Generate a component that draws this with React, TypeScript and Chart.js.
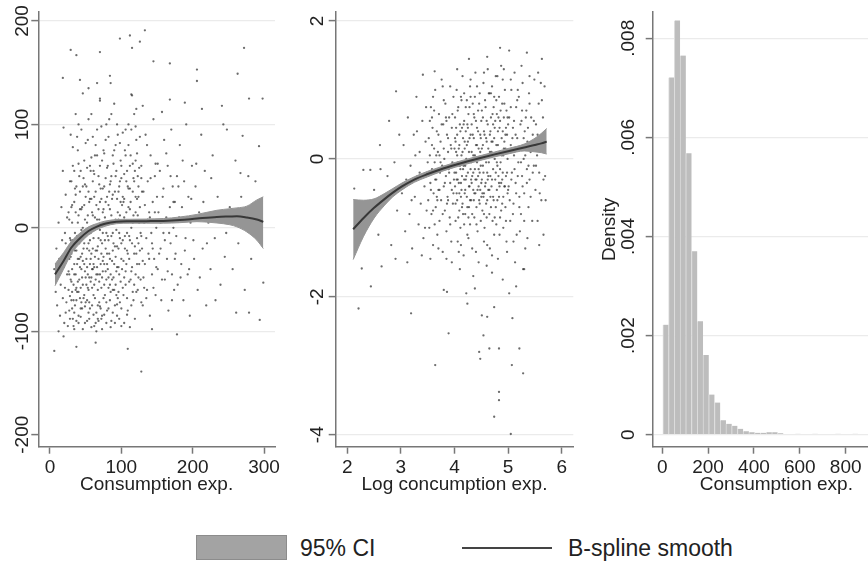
import React, { useEffect, useRef } from 'react';
import { Chart, registerables } from 'chart.js';

Chart.register(...registerables);

const FONT = "'Liberation Sans', Arial, Helvetica, sans-serif";
const AXIS_COLOR = '#777777';
const GRID_COLOR = '#ebebeb';
const TEXT_COLOR = '#222222';
const BAND_COLOR = '#959595';
const LINE_COLOR = '#383838';
const DOT_COLOR = 'rgba(45,45,45,0.7)';
const BAR_COLOR = '#bdbdbd';
const BAR_EDGE = '#dcdcdc';

// ---------- Panel 1: residual vs consumption exp. ----------
const P1_X_TICKS = [0, 100, 200, 300];
const P1_X_LABELS = ['0', '100', '200', '300'];
const P1_Y_TICKS = [-200, -100, 0, 100, 200];
const P1_Y_LABELS = ['-200', '-100', '0', '100', '200'];
const P1_X_TITLE = 'Consumption exp.';

const P1_SMOOTH_X = [7, 19, 30, 42, 54, 65, 77, 93, 112, 135, 159, 182, 206, 234, 252, 262, 276, 290, 299];
const P1_FIT = [-45, -32, -19, -10, -3, 1, 4, 6, 6.4, 6.5, 6.7, 7.5, 9, 10.6, 11, 11.2, 10, 8, 5.8];
const P1_LO = [-56, -40, -25, -15, -7, -2, 1.5, 4, 4.5, 4.5, 4.5, 5, 6, 4.7, 3, 1, -4, -12, -20];
const P1_HI = [-35, -24, -13, -5, 1, 4, 6.5, 8, 8.3, 8.5, 9, 10.5, 13, 17, 18.5, 19.3, 21, 27, 30];

const P1_SCATTER: [number, number][] = [
  [6,-40],[8,-62],[9,-20],[10,-75],[11,-48],[12,5],[13,-30],[14,-85],[15,-55],[16,20],[17,-12],[18,-68],[19,-38],[20,-92],[21,-5],[21,-58],[22,32],[23,-25],[23,-72],[24,-45],[24,10],[12,-100],[18,55],[22,-15],[15,-35],
  [26,-60],[26,15],[27,-30],[27,-80],[28,45],[28,-10],[29,-50],[29,90],[30,-25],[30,-70],[31,5],[31,-40],[32,-88],[32,60],[33,-18],[33,-55],[34,25],[34,-35],[35,-75],[35,-5],[36,110],[36,-45],[37,-22],[37,40],[38,-62],[38,-8],[39,75],[39,-30],[40,-85],[40,12],[41,-50],[41,-15],[42,35],[42,-68],[43,-28],[43,55],[44,-40],[44,-2],[45,-78],[45,20],[46,-55],[46,130],[47,-20],[47,48],[48,-65],[48,-35],[49,8],[49,-92],[50,-48],[50,30],[27,-45],[30,20],[33,-95],[36,-60],[39,-52],[42,-38],[45,-25],[48,65],[31,-62],[35,38],[44,-72],[47,-8],[40,100],[43,-58],[37,-90],[46,0],[29,-12],[34,-82],[41,50],[49,-42],
  [51,-30],[51,40],[52,-70],[52,5],[53,-45],[53,85],[54,-15],[54,-60],[55,25],[55,-88],[56,-35],[56,60],[57,-5],[57,-52],[58,110],[58,-25],[59,-75],[59,15],[60,-40],[60,45],[61,-10],[61,-65],[62,30],[62,-95],[63,-28],[63,70],[64,-50],[64,0],[65,-82],[65,22],[66,-38],[66,95],[67,-18],[67,-60],[68,50],[68,-30],[69,-72],[69,8],[70,-45],[70,125],[71,-12],[71,38],[72,-58],[72,-25],[73,65],[73,-85],[74,-5],[74,-42],[75,18],[75,-68],[52,-20],[54,35],[56,-78],[58,-48],[60,12],[62,-55],[64,80],[66,-22],[68,-90],[70,-2],[72,28],[74,-32],[53,-58],[57,55],[61,-35],[65,-100],[69,42],[73,-15],[55,-22],[59,-40],[63,10],[67,-45],[71,-78],[75,75],[66,140],
  [76,-35],[76,40],[77,-65],[77,10],[78,-20],[78,85],[79,-50],[79,-5],[80,30],[80,-80],[81,-40],[81,60],[82,-12],[82,-58],[83,105],[83,-25],[84,-70],[84,18],[85,-45],[85,45],[86,-8],[86,-90],[87,28],[87,-32],[88,-60],[88,70],[89,-15],[89,-48],[90,5],[90,120],[91,-75],[91,35],[92,-28],[92,-55],[93,55],[93,-2],[94,-38],[94,-85],[95,15],[95,90],[96,-62],[96,-20],[97,40],[97,-45],[98,-10],[98,-72],[99,65],[99,25],[100,-30],[100,-95],[78,-42],[82,22],[86,50],[90,-35],[94,-18],[98,12],[80,-25],[84,-55],[88,-5],[92,80],[96,8],[100,48],[85,140],[93,-65],[79,100],
  [101,-40],[102,30],[103,-65],[104,10],[105,75],[105,-20],[106,-55],[107,45],[108,-5],[109,-80],[110,20],[110,100],[111,-30],[112,60],[113,-50],[114,0],[115,-15],[115,128],[116,35],[117,-70],[118,-25],[119,55],[120,-45],[120,15],[121,85],[122,-10],[123,-60],[124,40],[125,-35],[125,5],[103,25],[107,-35],[111,-8],[113,70],[117,12],[119,-88],[121,-25],[123,50],[102,-12],[106,95],[109,40],[114,-42],[118,110],[122,28],[104,-48],[108,-22],[112,18],[116,-62],[120,65],[124,-15],
  [126,20],[127,-50],[128,60],[129,-20],[130,-75],[131,35],[132,5],[133,-35],[134,90],[135,-10],[136,-60],[137,45],[138,-25],[139,15],[140,-85],[141,70],[142,-5],[143,-45],[144,25],[145,105],[146,-30],[147,50],[148,-65],[149,0],[150,30],[128,-8],[132,-58],[136,80],[140,10],[144,-20],[148,62],[130,118],
  [151,-40],[152,15],[154,55],[155,-20],[156,-70],[158,30],[159,-5],[160,85],[161,-50],[163,10],[164,-30],[165,60],[166,-80],[168,20],[169,-15],[170,95],[171,-45],[172,40],[173,0],[174,-60],[175,25],[157,112],
  [176,-25],[178,50],[179,-55],[181,10],[182,80],[184,-35],[185,20],[187,-70],[188,45],[190,-10],[191,100],[193,-45],[194,30],[196,-85],[197,5],[199,60],
  [202,-30],[204,40],[207,-60],[209,15],[212,90],[214,-20],[217,55],[219,-75],[222,5],[225,-40],[228,70],[231,-10],[235,30],[239,-55],[243,100],[247,-5],
  [252,20],[256,-40],[260,65],[264,-15],[268,30],[273,-60],[277,10],[282,-30],[288,45],[296,-10],
  [6,-119],[19,-105],[37,-115],[64,-111],[109,-117],[128,-139],[178,-103],[143,-98],[272,174],[279,125],[298,125],[294,-89],[299,-53],[279,-82],[261,-82],[267,53],[278,50],[133,191],[112,186],[126,180],[115,174],[98,183],[70,170],[29,172],[37,167],[145,161],[168,159],[206,153],[206,142],[263,149],[18,145],[42,143],[54,135],[84,147],[70,123],[121,115],[114,129],[168,124],[189,121],[213,115],[241,118],[248,95],[270,89],[293,79],[19,97],
  [25,-20],[26,-42],[27,8],[28,-66],[29,-28],[30,-52],[31,22],[32,-12],[33,-70],[34,-45],[35,-22],[36,15],[37,-58],[38,-35],[39,5],[40,-62],[41,-30],[42,-8],[43,-78],[44,18],[45,-48],[46,-32],[47,-68],[48,-15],[49,42],[50,-72],[51,-55],[52,-38],[53,12],[54,-82],[55,-48],[56,-12],[57,-30],[58,28],[59,-58],[60,-20],[61,55],[62,-38],[63,-68],[64,-22],[65,-45],[66,8],[67,-75],[68,-10],[69,-52],[70,25],[71,-35],[72,-88],[73,-48],[74,15],[75,-28],[76,-55],[77,-12],[78,48],[79,-72],[80,-35],[81,-8],[82,-48],[83,35],[84,-30],[85,-62],[86,12],[87,-50],[88,-22],[89,62],[90,-60],[91,-18],[92,8],[93,-42],[94,28],[95,-68],[96,-38],[97,-5],[98,45],[99,-52],[100,-15],[101,22],[102,-58],[103,-32],[104,52],[105,-8],[106,-42],[107,15],[108,-68],[109,-25],[110,38],[111,-52],[112,-12],[113,25],[114,-75],[115,-38],[116,5],[117,48],[118,-55],[119,-18],[120,30],[121,-62],[122,-35],[123,12],[124,-48],[125,58],[126,-22],[127,-5],[128,-72],[129,35],[130,-32],
  [30,45],[32,78],[34,55],[36,32],[38,88],[40,62],[42,18],[44,95],[46,40],[48,22],[50,82],[52,58],[54,105],[56,28],[58,68],[60,88],[62,52],[64,35],[66,70],[68,18],[70,60],[72,98],[74,38],[76,72],[78,25],[80,58],[82,88],[84,42],[86,110],[88,32],[90,75],[92,50],[94,100],[96,35],[98,82],[100,60],[102,92],[104,28],[106,70],[108,55],[110,80],[112,38],[114,95],[116,62],[118,45],[120,98],[122,72],[124,30],[126,88],[128,48],
  [22,-82],[25,-95],[28,-88],[31,-78],[34,-98],[37,-70],[40,-92],[43,-86],[46,-98],[49,-76],[52,-90],[55,-72],[58,-96],[61,-84],[64,-92],[67,-88],[70,-76],[73,-98],[76,-84],[79,-92],[82,-78],[85,-96],[88,-82],[91,-92],[94,-74],[97,-88],[100,-78],[104,-92],[108,-84],[112,-96],
  [131,-48],[133,22],[135,-68],[137,8],[139,-30],[141,48],[143,-15],[145,-58],[147,15],[149,-38],[151,62],[153,-25],[155,5],[157,-50],[159,38],[161,-12],[163,72],[165,-42],[167,-5],[169,50],[171,-70],[173,25],[175,-30],[177,-8],[180,40],[183,-48],[186,65],[189,-22],[192,10],[195,-40],[198,28],[201,-12],[205,62],[210,-48],[215,25],[220,-15],[226,48],[232,-70],[238,12],[245,-28],
];

// ---------- Panel 2: residual vs log consumption exp. ----------
const P2_X_TICKS = [2, 3, 4, 5, 6];
const P2_X_LABELS = ['2', '3', '4', '5', '6'];
const P2_Y_TICKS = [-4, -2, 0, 2];
const P2_Y_LABELS = ['-4', '-2', '0', '2'];
const P2_X_TITLE = 'Log concumption exp.';

const P2_SMOOTH_X = [2.11, 2.3, 2.5, 2.7, 2.85, 3.02, 3.25, 3.5, 3.75, 4.02, 4.25, 4.52, 4.75, 5.02, 5.3, 5.52, 5.62, 5.72];
const P2_FIT = [-1.02, -0.86, -0.71, -0.58, -0.49, -0.4, -0.3, -0.22, -0.15, -0.085, -0.035, 0.02, 0.065, 0.115, 0.165, 0.205, 0.225, 0.25];
const P2_LO = [-1.46, -1.13, -0.86, -0.67, -0.55, -0.45, -0.34, -0.26, -0.185, -0.12, -0.07, -0.015, 0.03, 0.075, 0.115, 0.1, 0.09, 0.07];
const P2_HI = [-0.59, -0.6, -0.58, -0.5, -0.43, -0.35, -0.26, -0.18, -0.115, -0.05, 0.0, 0.055, 0.1, 0.155, 0.215, 0.31, 0.37, 0.44];

const P2_SCATTER: [number, number][] = [
  [2.35,-0.9],[2.5,-0.45],[2.58,-1.1],[2.7,-0.6],[2.75,-0.25],[2.82,-1.25],[2.88,-0.05],[2.93,-0.75],[2.97,0.35],[2.2,-1.2],[2.62,-0.15],[2.78,0.55],[2.9,-1.45],
  [3.02,-0.5],[3.05,0.2],[3.08,-1.05],[3.1,-0.3],[3.13,0.6],[3.16,-0.8],[3.18,-0.1],[3.21,-1.3],[3.24,0.35],[3.26,-0.55],[3.29,0.9],[3.31,-0.25],[3.33,-0.95],[3.35,0.1],[3.37,-0.65],[3.4,0.55],[3.42,-1.15],[3.44,-0.4],[3.46,0.25],[3.48,-0.75],[3.5,-0.05],[3.12,-1.5],[3.27,0.05],[3.39,-1.4],[3.47,0.75],
  [3.51,-0.6],[3.52,0.3],[3.53,-1.0],[3.54,0.05],[3.55,-0.35],[3.56,0.75],[3.57,-0.8],[3.58,-0.15],[3.59,0.45],[3.6,-1.25],[3.61,-0.5],[3.62,0.15],[3.63,-0.05],[3.64,1.0],[3.65,-0.7],[3.66,-0.3],[3.67,0.4],[3.68,-1.1],[3.69,0.1],[3.7,-0.45],[3.71,0.65],[3.72,-0.9],[3.73,-0.2],[3.74,0.25],[3.75,-0.6],[3.76,1.15],[3.77,-0.1],[3.78,-1.35],[3.79,0.5],[3.8,-0.4],[3.81,0.0],[3.82,-0.75],[3.83,0.8],[3.84,-0.25],[3.85,-1.05],[3.86,0.35],[3.87,-0.55],[3.88,0.1],[3.89,-0.15],[3.9,0.6],[3.91,-0.85],[3.92,-0.35],[3.93,0.2],[3.94,-1.2],[3.95,0.45],[3.96,-0.05],[3.97,-0.65],[3.98,0.9],[3.99,-0.3],[4.0,0.15],[3.55,-1.45],[3.63,-0.95],[3.72,0.05],[3.8,0.85],[3.88,-0.6],[3.95,-0.45],[3.67,-0.55],[3.85,0.55],[3.92,1.05],[3.58,0.6],
  [4.01,-0.4],[4.01,0.6],[4.02,-0.9],[4.03,0.1],[4.03,-0.2],[4.04,1.0],[4.05,-0.6],[4.05,0.35],[4.06,-1.2],[4.07,-0.05],[4.07,0.75],[4.08,-0.35],[4.09,0.2],[4.09,-0.75],[4.1,0.5],[4.11,-0.15],[4.11,-1.0],[4.12,0.9],[4.13,-0.45],[4.13,0.05],[4.14,-0.25],[4.15,1.2],[4.15,-0.65],[4.16,0.3],[4.17,-0.1],[4.17,-1.4],[4.18,0.55],[4.19,-0.5],[4.19,0.15],[4.2,-0.8],[4.21,0.4],[4.21,-0.3],[4.22,0.0],[4.23,0.85],[4.23,-0.55],[4.24,-1.1],[4.25,0.25],[4.25,-0.2],[4.26,0.65],[4.27,-0.7],[4.27,0.1],[4.28,-0.4],[4.29,1.05],[4.29,-0.95],[4.3,0.35],[4.31,-0.05],[4.31,-0.6],[4.32,0.5],[4.33,-0.25],[4.33,-1.3],[4.34,0.8],[4.35,0.05],[4.35,-0.45],[4.36,0.3],[4.37,-0.85],[4.37,0.6],[4.38,-0.15],[4.39,-0.5],[4.39,1.25],[4.4,0.2],[4.41,-0.7],[4.41,-0.3],[4.42,0.45],[4.43,-1.05],[4.43,0.0],[4.44,0.7],[4.45,-0.4],[4.45,0.15],[4.46,-0.6],[4.47,0.95],[4.47,-0.2],[4.48,0.35],[4.49,-0.9],[4.49,-0.1],[4.5,0.55],[4.02,0.25],[4.08,-1.35],[4.14,0.45],[4.2,-0.1],[4.26,-0.85],[4.32,-0.35],[4.38,0.9],[4.44,-0.25],[4.5,-0.55],[4.06,-0.3],[4.12,-0.55],[4.18,-0.3],[4.24,0.5],[4.3,-0.15],[4.36,-0.6],[4.42,-0.05],[4.48,-0.45],[4.04,-0.5],[4.16,-0.8],[4.28,0.75],
  [4.51,-0.3],[4.51,0.7],[4.52,-0.75],[4.53,0.2],[4.53,-0.1],[4.54,1.1],[4.55,-0.5],[4.55,0.4],[4.56,-1.0],[4.57,0.05],[4.57,0.85],[4.58,-0.35],[4.59,0.3],[4.59,-0.65],[4.6,0.55],[4.61,-0.2],[4.61,-1.25],[4.62,1.3],[4.63,-0.45],[4.63,0.15],[4.64,-0.05],[4.65,0.95],[4.65,-0.8],[4.66,0.35],[4.67,-0.25],[4.67,-0.55],[4.68,0.6],[4.69,-0.4],[4.69,0.1],[4.7,1.05],[4.71,-0.9],[4.71,0.25],[4.72,-0.15],[4.73,0.75],[4.73,-0.6],[4.74,-1.1],[4.75,0.45],[4.75,0.0],[4.76,-0.3],[4.77,1.2],[4.77,-0.7],[4.78,0.2],[4.79,-0.45],[4.79,0.65],[4.8,-0.1],[4.81,-1.45],[4.81,0.4],[4.82,-0.25],[4.83,0.9],[4.83,-0.55],[4.84,0.1],[4.85,-0.85],[4.85,0.55],[4.86,-0.05],[4.87,1.35],[4.87,-0.35],[4.88,0.3],[4.89,-0.65],[4.89,0.8],[4.9,-0.2],[4.91,0.05],[4.91,-1.0],[4.92,0.6],[4.93,-0.4],[4.93,0.25],[4.94,1.0],[4.95,-0.7],[4.95,0.15],[4.96,-0.25],[4.97,0.7],[4.97,-1.2],[4.98,0.35],[4.99,-0.5],[4.99,0.0],[5.0,0.5],[4.54,-0.55],[4.6,-0.85],[4.66,-1.3],[4.72,0.5],[4.78,-0.95],[4.84,-0.4],[4.9,1.15],[4.96,0.45],[4.62,-0.3],[4.74,0.9],
  [5.01,-0.4],[5.02,0.6],[5.04,-0.9],[5.05,0.2],[5.06,1.0],[5.07,-0.2],[5.09,0.45],[5.1,-0.65],[5.11,0.05],[5.12,1.25],[5.14,-0.35],[5.15,0.75],[5.16,-1.1],[5.17,0.3],[5.19,-0.05],[5.2,0.9],[5.21,-0.55],[5.22,0.15],[5.24,-0.8],[5.25,0.55],[5.26,-0.25],[5.27,1.1],[5.29,0.0],[5.3,-0.5],[5.31,0.4],[5.32,-1.3],[5.34,0.7],[5.35,-0.15],[5.36,0.25],[5.38,-0.7],[5.39,0.95],[5.4,-0.3],[5.42,0.1],[5.43,0.6],[5.45,-0.9],[5.46,0.35],[5.48,-0.1],[5.49,1.15],[5.13,-1.5],[5.28,-1.6],
  [5.51,-0.45],[5.52,0.5],[5.54,0.05],[5.55,-0.9],[5.57,0.8],[5.58,-0.2],[5.6,0.3],[5.61,1.1],[5.62,-0.6],[5.64,0.15],[5.65,0.6],[5.66,-0.3],[5.68,1.05],[5.69,-0.25],[5.58,-1.25],
  [2.21,-2.17],[2.44,-1.85],[2.27,-1.59],[2.64,-1.56],[2.13,-0.43],[2.43,-0.16],[2.3,-0.16],[2.61,0.2],[2.91,0.98],[3.19,-2.24],[3.64,-2.99],[3.89,-2.53],[4.22,-1.95],[4.24,-2.1],[4.46,-2.8],[4.48,-2.9],[4.54,-2.56],[4.65,-2.75],[4.74,-2.15],[4.83,-2.75],[4.83,-3.38],[4.83,-3.5],[4.74,-3.74],[5.05,-3.99],[5.07,-2.99],[5.08,-2.31],[5.21,-2.75],[5.28,-3.11],[5.02,-1.95],[4.61,-2.29],[4.51,-2.27],[3.8,-1.9],[3.86,-1.93],[4.38,-1.88],[4.85,1.61],[5.02,1.57],[5.35,1.54],[5.63,1.45],[4.27,1.45],[4.61,1.48],[3.63,1.27],[3.41,1.22],
  [4.1,-1.6],[4.35,-1.7],[4.6,-1.55],[4.9,-1.75],[5.15,-1.85],[4.7,-1.65],[3.95,-1.5],[5.3,-1.6],[4.45,-1.5],
  [3.52,-0.2],[3.54,0.55],[3.56,-0.45],[3.58,0.2],[3.6,-0.75],[3.62,0.7],[3.64,-0.3],[3.66,0.05],[3.68,-0.6],[3.7,0.35],[3.72,-0.45],[3.74,-0.05],[3.76,0.5],[3.78,-0.8],[3.8,0.15],[3.82,-0.35],[3.84,0.6],[3.86,-0.65],[3.88,0.3],[3.9,-0.2],[3.92,-0.95],[3.94,0.15],[3.96,0.65],[3.98,-0.5],[4.0,-0.2],
  [4.01,0.3],[4.02,-0.65],[4.03,0.45],[4.04,-0.3],[4.05,0.05],[4.06,0.7],[4.07,-0.85],[4.08,0.15],[4.09,-0.5],[4.1,-0.1],[4.11,0.4],[4.12,-0.35],[4.13,0.85],[4.14,-0.7],[4.15,0.1],[4.16,-0.15],[4.17,0.5],[4.18,-0.95],[4.19,0.25],[4.2,-0.45],[4.21,0.75],[4.22,-0.25],[4.23,0.2],[4.24,-0.7],[4.25,0.45],[4.26,-0.05],[4.27,-0.4],[4.28,0.3],[4.29,-0.6],[4.3,0.9],[4.31,-0.3],[4.32,0.1],[4.33,-0.8],[4.34,0.35],[4.35,-0.2],[4.36,0.65],[4.37,-0.5],[4.38,0.05],[4.39,-0.3],[4.4,0.55],[4.41,-0.95],[4.42,0.2],[4.43,-0.45],[4.44,0.4],[4.45,-0.15],[4.46,0.8],[4.47,-0.65],[4.48,0.1],[4.49,0.3],[4.5,-0.35],
  [4.51,0.15],[4.52,-0.5],[4.53,0.6],[4.54,-0.2],[4.55,-0.8],[4.56,0.35],[4.57,-0.4],[4.58,0.75],[4.59,-0.05],[4.6,0.25],[4.61,-0.6],[4.62,0.5],[4.63,-0.25],[4.64,0.95],[4.65,-0.45],[4.66,0.1],[4.67,0.4],[4.68,-0.7],[4.69,0.25],[4.7,-0.3],[4.71,0.65],[4.72,-0.55],[4.73,0.05],[4.74,0.3],[4.75,-0.85],[4.76,0.55],[4.77,-0.2],[4.78,0.85],[4.79,-0.05],[4.8,-0.6],[4.81,0.2],[4.82,0.6],[4.83,-0.35],[4.84,0.45],[4.85,-0.15],[4.86,0.7],[4.87,-0.75],[4.88,0.05],[4.89,-0.3],[4.9,0.4],[4.91,-0.55],[4.92,0.15],[4.93,0.8],[4.94,-0.4],[4.95,0.35],[4.96,-0.9],[4.97,0.1],[4.98,-0.2],[4.99,0.6],[5.0,-0.45],
  [5.02,0.1],[5.03,-0.6],[5.05,0.75],[5.06,-0.3],[5.08,0.3],[5.09,-0.8],[5.11,0.55],[5.12,-0.15],[5.14,0.35],[5.15,-0.5],[5.17,0.85],[5.18,-0.25],[5.2,0.15],[5.21,-0.7],[5.23,0.5],[5.24,-0.05],[5.26,0.7],[5.27,-0.4],[5.29,0.3],[5.3,-0.9],[5.32,0.05],[5.33,0.6],[5.35,-0.35],[5.37,0.45],[5.38,-0.1],[5.4,0.8],[5.42,-0.55],[5.44,0.25],[5.46,-0.2],[5.48,0.55],
  [4.05,1.3],[4.18,0.95],[4.3,1.15],[4.42,1.05],[4.55,1.25],[4.68,0.95],[4.8,1.2],[4.92,1.3],[5.05,1.15],[5.18,1.0],[5.25,1.35],[5.4,1.2],[4.12,-1.25],[4.26,-1.15],[4.4,-1.35],[4.55,-1.2],[4.7,-1.4],[4.84,-1.1],[4.98,-1.35],[5.1,-1.2],[5.22,-1.05],[5.36,-1.15],[3.7,-1.3],[3.85,-1.45],[3.6,0.9],[3.78,1.05],[3.45,-1.0],[3.3,0.4],[3.2,-0.6],[3.35,-0.2],
  [5.52,-0.1],[5.55,0.35],[5.59,-0.5],[5.63,0.85],[5.67,0.2],[5.7,-0.6],[5.56,1.25],[5.66,-1.1],
];

// ---------- Panel 3: histogram of consumption exp. ----------
const HIST_BIN_START = 3;
const HIST_BIN_WIDTH = 25;
const HIST_DENSITY = [
  0.00222, 0.00721, 0.00836, 0.00765, 0.00568, 0.0037, 0.00229, 0.00161, 0.00081, 0.00065,
  0.00029, 0.00022, 0.00018, 0.00012, 0.00007, 0.00005, 0.00004, 0.00004, 0.00005, 0.00005,
  0.00003, 0, 0, 0.00002, 0, 0, 0.00002, 0, 0, 0, 0.00002, 0, 0, 0.00002,
];
const P3_X_TICKS = [0, 200, 400, 600, 800];
const P3_X_LABELS = ['0', '200', '400', '600', '800'];
const P3_Y_TICKS = [0, 0.002, 0.004, 0.006, 0.008];
const P3_Y_LABELS = ['0', '.002', '.004', '.006', '.008'];
const P3_X_TITLE = 'Consumption exp.';
const P3_Y_TITLE = 'Density';

const LEGEND_CI = '95% CI';
const LEGEND_LINE = 'B-spline smooth';

// ---------- layout ----------
const CANVAS_H = 500;
const PLOT_TOP = 12;
const PLOT_BOTTOM = 446.7;
const TICK_LEN = 7;
const TICK_FONT = 19;
const TITLE_FONT = 19;

function widestLabel(labels: string[], size: number): number {
  const c = document.createElement('canvas').getContext('2d') as CanvasRenderingContext2D;
  c.font = `${size}px ${FONT}`;
  return Math.max(...labels.map((l) => c.measureText(l).width));
}

function zeroPad(s: any) {
  s.paddingLeft = 0;
  s.paddingRight = 0;
  s.paddingTop = 0;
  s.paddingBottom = 0;
}

function axisX(min: number, max: number, ticks: number[], labels: string[], title: string) {
  return {
    type: 'linear',
    min,
    max,
    offset: false,
    afterBuildTicks: (s: any) => {
      s.ticks = ticks.map((v) => ({ value: v }));
    },
    afterFit: (s: any) => {
      s.height = CANVAS_H - PLOT_BOTTOM;
      zeroPad(s);
    },
    border: { display: true, color: AXIS_COLOR, width: 1.5 },
    grid: {
      display: true,
      offset: false,
      drawOnChartArea: false,
      drawTicks: true,
      tickLength: TICK_LEN,
      tickColor: AXIS_COLOR,
      tickWidth: 1.5,
    },
    ticks: {
      autoSkip: false,
      minRotation: 0,
      maxRotation: 0,
      padding: 2.5,
      color: TEXT_COLOR,
      font: { family: FONT, size: TICK_FONT },
      callback: (_v: any, i: number) => labels[i],
    },
    title: {
      display: true,
      text: title,
      color: TEXT_COLOR,
      font: { family: FONT, size: TITLE_FONT },
      padding: { top: 0, bottom: 3.5 },
    },
  };
}

function axisY(
  min: number,
  max: number,
  ticks: number[],
  labels: string[],
  axisWidth: number,
  labelCenter: number,
  hideGrid: number[],
  title?: { text: string; center: number },
) {
  const w = widestLabel(labels, TICK_FONT);
  const pad = axisWidth - TICK_LEN - labelCenter - w / 2;
  return {
    type: 'linear',
    min,
    max,
    afterBuildTicks: (s: any) => {
      s.ticks = ticks.map((v) => ({ value: v }));
    },
    afterFit: (s: any) => {
      s.width = axisWidth;
      zeroPad(s);
    },
    border: { display: true, color: AXIS_COLOR, width: 1.5 },
    grid: {
      display: true,
      color: (ctx: any) =>
        ctx.tick && hideGrid.includes(ctx.tick.value) ? 'rgba(0,0,0,0)' : GRID_COLOR,
      lineWidth: 1.2,
      drawTicks: true,
      tickLength: TICK_LEN,
      tickColor: AXIS_COLOR,
      tickWidth: 1.5,
    },
    ticks: {
      autoSkip: false,
      minRotation: 90,
      maxRotation: 90,
      crossAlign: 'center',
      padding: pad,
      color: TEXT_COLOR,
      font: { family: FONT, size: TICK_FONT },
      callback: (_v: any, i: number) => labels[i],
    },
    title: title
      ? {
          display: true,
          text: title.text,
          color: TEXT_COLOR,
          font: { family: FONT, size: TITLE_FONT },
          padding: { top: title.center - (TITLE_FONT * 1.2) / 2, bottom: 0 },
        }
      : { display: false },
  };
}

function toPoints(xs: number[], ys: number[]) {
  return xs.map((x, i) => ({ x, y: ys[i] }));
}

function smoothDatasets(xs: number[], fit: number[], lo: number[], hi: number[]) {
  return [
    {
      type: 'line',
      data: toPoints(xs, fit),
      borderColor: LINE_COLOR,
      borderWidth: 2,
      pointRadius: 0,
      fill: false,
      cubicInterpolationMode: 'monotone',
      order: 0,
    },
    {
      type: 'line',
      data: toPoints(xs, lo),
      borderColor: BAND_COLOR,
      borderWidth: 1,
      pointRadius: 0,
      fill: false,
      cubicInterpolationMode: 'monotone',
      order: 1,
    },
    {
      type: 'line',
      data: toPoints(xs, hi),
      borderColor: BAND_COLOR,
      backgroundColor: BAND_COLOR,
      borderWidth: 1,
      pointRadius: 0,
      fill: 1,
      cubicInterpolationMode: 'monotone',
      order: 1,
    },
  ];
}

function scatterDataset(pts: [number, number][]) {
  return {
    type: 'scatter',
    data: pts.map(([x, y]) => ({ x, y })),
    pointRadius: 1.15,
    pointBackgroundColor: DOT_COLOR,
    pointBorderWidth: 0,
    showLine: false,
    order: 5,
  };
}

function baseOptions(rightPad: number) {
  return {
    responsive: false,
    maintainAspectRatio: false,
    animation: false,
    events: [],
    layout: { padding: { left: 0, top: PLOT_TOP, right: rightPad, bottom: 0 } },
    plugins: { legend: { display: false }, tooltip: { enabled: false } },
  };
}

export default function App() {
  const c1 = useRef<HTMLCanvasElement>(null);
  const c2 = useRef<HTMLCanvasElement>(null);
  const c3 = useRef<HTMLCanvasElement>(null);

  useEffect(() => {
    const charts: Chart[] = [];

    charts.push(
      new Chart(c1.current as HTMLCanvasElement, {
        type: 'scatter',
        data: {
          datasets: [
            ...smoothDatasets(P1_SMOOTH_X, P1_FIT, P1_LO, P1_HI),
            scatterDataset(P1_SCATTER),
          ] as any,
        },
        options: {
          ...baseOptions(15),
          scales: {
            x: axisX(-16.4, 315.4, P1_X_TICKS, P1_X_LABELS, P1_X_TITLE),
            y: axisY(-211.6, 208.7, P1_Y_TICKS, P1_Y_LABELS, 38.3, 23, [-200]),
          },
        } as any,
      }),
    );

    charts.push(
      new Chart(c2.current as HTMLCanvasElement, {
        type: 'scatter',
        data: {
          datasets: [
            ...smoothDatasets(P2_SMOOTH_X, P2_FIT, P2_LO, P2_HI),
            scatterDataset(P2_SCATTER),
          ] as any,
        },
        options: {
          ...baseOptions(6.7),
          scales: {
            x: axisX(1.784, 6.216, P2_X_TICKS, P2_X_LABELS, P2_X_TITLE),
            y: axisY(-4.174, 2.13, P2_Y_TICKS, P2_Y_LABELS, 45.7, 27.5, []),
          },
        } as any,
      }),
    );

    charts.push(
      new Chart(c3.current as HTMLCanvasElement, {
        type: 'bar',
        data: {
          datasets: [
            {
              data: HIST_DENSITY.map((d, i) => ({
                x: HIST_BIN_START + HIST_BIN_WIDTH * (i + 0.5),
                y: d,
              })),
              backgroundColor: BAR_COLOR,
              borderColor: BAR_EDGE,
              borderWidth: { left: 1, right: 0, top: 0, bottom: 0 },
              borderSkipped: false,
              barPercentage: 1,
              categoryPercentage: 1,
            },
          ] as any,
        },
        options: {
          ...baseOptions(0),
          scales: {
            x: axisX(-41.4, 1036.6, P3_X_TICKS, P3_X_LABELS, P3_X_TITLE),
            y: axisY(-0.000242, 0.00853, P3_Y_TICKS, P3_Y_LABELS, 72.7, 49, [], {
              text: P3_Y_TITLE,
              center: 30,
            }),
          },
        } as any,
      }),
    );

    return () => {
      charts.forEach((c) => c.destroy());
    };
  }, []);

  const legendText: React.CSSProperties = {
    position: 'absolute',
    top: 534,
    height: 28,
    lineHeight: '28px',
    fontFamily: FONT,
    fontSize: 23,
    color: TEXT_COLOR,
    whiteSpace: 'nowrap',
  };

  return (
    <div
      style={{
        position: 'fixed',
        left: 0,
        top: 0,
        width: 868,
        height: 566,
        overflow: 'hidden',
        background: '#ffffff',
      }}
    >
      <canvas
        ref={c1}
        width={290}
        height={CANVAS_H}
        style={{ position: 'absolute', left: 0, top: 0, width: 290, height: CANVAS_H }}
      />
      <canvas
        ref={c2}
        width={290}
        height={CANVAS_H}
        style={{ position: 'absolute', left: 290, top: 0, width: 290, height: CANVAS_H }}
      />
      <canvas
        ref={c3}
        width={320}
        height={CANVAS_H}
        style={{ position: 'absolute', left: 580, top: 0, width: 320, height: CANVAS_H }}
      />
      <div
        style={{
          position: 'absolute',
          left: 196,
          top: 535,
          width: 91,
          height: 25,
          boxSizing: 'border-box',
          background: '#a3a3a3',
          border: '1px solid #8c8c8c',
        }}
      />
      <div style={{ ...legendText, left: 300 }}>{LEGEND_CI}</div>
      <div
        style={{
          position: 'absolute',
          left: 462,
          top: 547,
          width: 90,
          height: 2,
          background: '#444444',
        }}
      />
      <div style={{ ...legendText, left: 568 }}>{LEGEND_LINE}</div>
    </div>
  );
}
